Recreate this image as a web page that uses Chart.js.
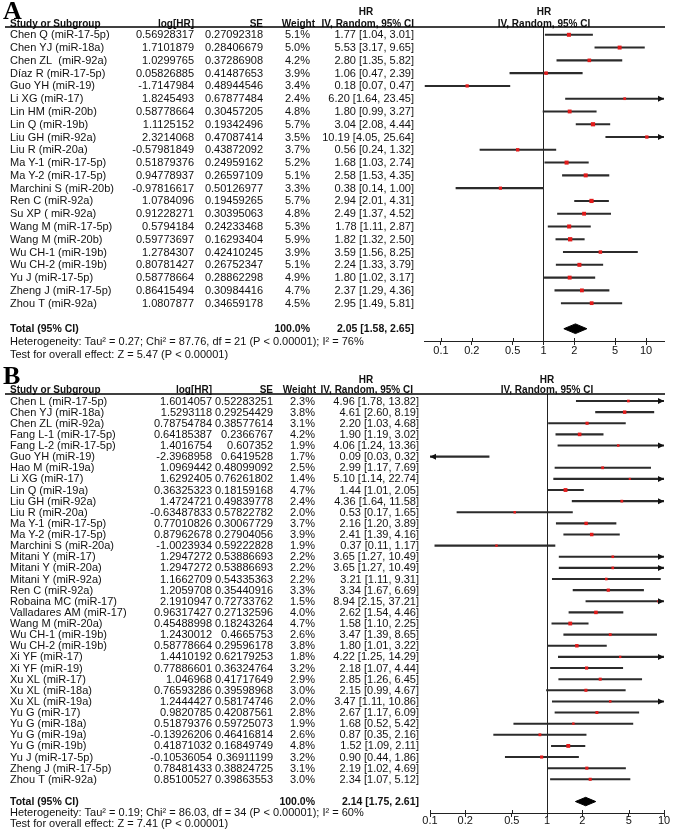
<!DOCTYPE html>
<html>
<head>
<meta charset="utf-8">
<script src="https://cdn.jsdelivr.net/npm/chart.js@4.4.1/dist/chart.umd.min.js"></script>
<style>
  body { margin: 0; background: #fff; }
  #wrap { position: relative; width: 675px; height: 831px; }
  canvas { position: absolute; left: 0; }
</style>
</head>
<body>
<div id="wrap">
  <canvas id="chartA" width="675" height="366" style="top:0"></canvas>
  <canvas id="chartB" width="675" height="465" style="top:366px"></canvas>
</div>
<script>
// ---- Panel A ----
const studiesA = ['Chen Q (miR-17-5p)', 'Chen YJ (miR-18a)', 'Chen ZL  (miR-92a)', 'Díaz R (miR-17-5p)', 'Guo YH (miR-19)',
  'Li XG (miR-17)', 'Lin HM (miR-20b)', 'Lin Q (miR-19b)', 'Liu GH (miR-92a)', 'Liu R (miR-20a)', 'Ma Y-1 (miR-17-5p)',
  'Ma Y-2 (miR-17-5p)', 'Marchini S (miR-20b)', 'Ren C (miR-92a)', 'Su XP ( miR-92a)', 'Wang M (miR-17-5p)',
  'Wang M (miR-20b)', 'Wu CH-1 (miR-19b)', 'Wu CH-2 (miR-19b)', 'Yu J (miR-17-5p)', 'Zheng J (miR-17-5p)', 'Zhou T (miR-92a)'];
const logHrA = [0.56928317, 1.7101879, 1.0299765, 0.05826885, -1.7147984, 1.8245493, 0.58778664, 1.1125152, 2.3214068,
  -0.57981849, 0.51879376, 0.94778937, -0.97816617, 1.0784096, 0.91228271, 0.5794184, 0.59773697, 1.2784307,
  0.80781427, 0.58778664, 0.86415494, 1.0807877];
const seA = [0.27092318, 0.28406679, 0.37286908, 0.41487653, 0.48944546, 0.67877484, 0.30457205, 0.19342496, 0.47087414,
  0.43872092, 0.24959162, 0.26597109, 0.50126977, 0.19459265, 0.30395063, 0.24233468, 0.16293404, 0.42410245,
  0.26752347, 0.28862298, 0.30984416, 0.34659178];
const weightA = [5.1, 5.0, 4.2, 3.9, 3.4, 2.4, 4.8, 5.7, 3.5, 3.7, 5.2, 5.1, 3.3, 5.7, 4.8, 5.3, 5.9, 3.9, 5.1, 4.9, 4.7, 4.5];
const hrA = [1.77, 5.53, 2.80, 1.06, 0.18, 6.20, 1.80, 3.04, 10.19, 0.56, 1.68, 2.58, 0.38, 2.94, 2.49, 1.78, 1.82, 3.59,
  2.24, 1.80, 2.37, 2.95];
const lowA = [1.04, 3.17, 1.35, 0.47, 0.07, 1.64, 0.99, 2.08, 4.05, 0.24, 1.03, 1.53, 0.14, 2.01, 1.37, 1.11, 1.32, 1.56,
  1.33, 1.02, 1.29, 1.49];
const highA = [3.01, 9.65, 5.82, 2.39, 0.47, 23.45, 3.27, 4.44, 25.64, 1.32, 2.74, 4.35, 1.00, 4.31, 4.52, 2.87, 2.50, 8.25,
  3.79, 3.17, 4.36, 5.81];
const totalA = [2.05, 1.58, 2.65];
const hetA = 'Heterogeneity: Tau² = 0.27; Chi² = 87.76, df = 21 (P < 0.00001); I² = 76%';
const effectA = 'Test for overall effect: Z = 5.47 (P < 0.00001)';

// ---- Panel B ----
const studiesB = ['Chen L (miR-17-5p)', 'Chen YJ (miR-18a)', 'Chen ZL (miR-92a)', 'Fang L-1 (miR-17-5p)', 'Fang L-2 (miR-17-5p)',
  'Guo YH (miR-19)', 'Hao M (miR-19a)', 'Li XG (miR-17)', 'Lin Q (miR-19a)', 'Liu GH (miR-92a)', 'Liu R (miR-20a)',
  'Ma Y-1 (miR-17-5p)', 'Ma Y-2 (miR-17-5p)', 'Marchini S (miR-20a)', 'Mitani Y (miR-17)', 'Mitani Y (miR-20a)',
  'Mitani Y (miR-92a)', 'Ren C (miR-92a)', 'Robaina MC (miR-17)', 'Valladares AM (miR-17)', 'Wang M (miR-20a)',
  'Wu CH-1 (miR-19b)', 'Wu CH-2 (miR-19b)', 'Xi YF (miR-17)', 'Xi YF (miR-19)', 'Xu XL (miR-17)', 'Xu XL (miR-18a)',
  'Xu XL (miR-19a)', 'Yu G (miR-17)', 'Yu G (miR-18a)', 'Yu G (miR-19a)', 'Yu G (miR-19b)', 'Yu J (miR-17-5p)',
  'Zheng J (miR-17-5p)', 'Zhou T (miR-92a)'];
const logHrB = [1.6014057, 1.5293118, 0.78754784, 0.64185387, 1.4016754, -2.3968958, 1.0969442, 1.6292405, 0.36325323,
  1.4724721, -0.63487833, 0.77010826, 0.87962678, -1.0023934, 1.2947272, 1.2947272, 1.1662709, 1.2059708, 2.1910947,
  0.96317427, 0.45488998, 1.2430012, 0.58778664, 1.4410192, 0.77886601, 1.046968, 0.76593286, 1.2444427, 0.9820785,
  0.51879376, -0.13926206, 0.41871032, -0.10536054, 0.78481433, 0.85100527];
const seB = [0.52283251, 0.29254429, 0.38577614, 0.2366767, 0.607352, 0.6419528, 0.48099092, 0.76261802, 0.18159168,
  0.49839778, 0.57822782, 0.30067729, 0.27904056, 0.59222828, 0.53886693, 0.53886693, 0.54335363, 0.35440916, 0.72733762,
  0.27132596, 0.18243264, 0.4665753, 0.29596178, 0.62179253, 0.36324764, 0.41717649, 0.39598968, 0.58174746, 0.42087561,
  0.59725073, 0.46416814, 0.16849749, 0.36911199, 0.38824725, 0.39863553];
const weightB = [2.3, 3.8, 3.1, 4.2, 1.9, 1.7, 2.5, 1.4, 4.7, 2.4, 2.0, 3.7, 3.9, 1.9, 2.2, 2.2, 2.2, 3.3, 1.5, 4.0, 4.7,
  2.6, 3.8, 1.8, 3.2, 2.9, 3.0, 2.0, 2.8, 1.9, 2.6, 4.8, 3.2, 3.1, 3.0];
const hrB = [4.96, 4.61, 2.20, 1.90, 4.06, 0.09, 2.99, 5.10, 1.44, 4.36, 0.53, 2.16, 2.41, 0.37, 3.65, 3.65, 3.21, 3.34, 8.94,
  2.62, 1.58, 3.47, 1.80, 4.22, 2.18, 2.85, 2.15, 3.47, 2.67, 1.68, 0.87, 1.52, 0.90, 2.19, 2.34];
const lowB = [1.78, 2.60, 1.03, 1.19, 1.24, 0.03, 1.17, 1.14, 1.01, 1.64, 0.17, 1.20, 1.39, 0.11, 1.27, 1.27, 1.11, 1.67, 2.15,
  1.54, 1.10, 1.39, 1.01, 1.25, 1.07, 1.26, 0.99, 1.11, 1.17, 0.52, 0.35, 1.09, 0.44, 1.02, 1.07];
const highB = [13.82, 8.19, 4.68, 3.02, 13.36, 0.32, 7.69, 22.74, 2.05, 11.58, 1.65, 3.89, 4.16, 1.17, 10.49, 10.49, 9.31,
  6.69, 37.21, 4.46, 2.25, 8.65, 3.22, 14.29, 4.44, 6.45, 4.67, 10.86, 6.09, 5.42, 2.16, 2.11, 1.86, 4.69, 5.12];
const totalB = [2.14, 1.75, 2.61];
const hetB = 'Heterogeneity: Tau² = 0.19; Chi² = 86.03, df = 34 (P < 0.00001); I² = 60%';
const effectB = 'Test for overall effect: Z = 7.41 (P < 0.00001)';

const axisTicks = [0.1, 0.2, 0.5, 1, 2, 5, 10];

const FONT = '"Liberation Sans", Arial, sans-serif';

function fmtCI(h, l, u) {
  return h.toFixed(2) + ' [' + l.toFixed(2) + ', ' + u.toFixed(2) + ']';
}

function makeForest(id, d, lay) {
  const n = d.studies.length;
  const totalRow = n + 1;
  const half = 0.38; // diamond half height, in rows

  const forestPlugin = {
    id: 'forest',
    beforeDatasetsDraw(chart) {
      const {ctx, chartArea: a, scales: {x}} = chart;
      ctx.save();
      ctx.strokeStyle = '#222';
      ctx.lineWidth = 1;
      const x1 = Math.round(x.getPixelForValue(1)) + 0.5;
      ctx.beginPath(); ctx.moveTo(x1, a.top); ctx.lineTo(x1, a.bottom); ctx.stroke();
      // tick marks also poke above the axis
      x.ticks.forEach(t => {
        const px = Math.round(x.getPixelForValue(t.value)) + 0.5;
        ctx.beginPath(); ctx.moveTo(px, a.bottom - 3); ctx.lineTo(px, a.bottom); ctx.stroke();
      });
      ctx.restore();
    },
    afterDatasetsDraw(chart) {
      const {ctx, chartArea: a, scales: {x, y}} = chart;
      ctx.save();
      // arrows for intervals running off the axis
      ctx.fillStyle = '#111';
      for (let i = 0; i < n; i++) {
        const py = y.getPixelForValue(i);
        if (d.high[i] > x.max) {
          ctx.beginPath(); ctx.moveTo(a.right, py); ctx.lineTo(a.right - 6, py - 3); ctx.lineTo(a.right - 6, py + 3); ctx.fill();
        }
        if (d.low[i] < x.min) {
          ctx.beginPath(); ctx.moveTo(a.left, py); ctx.lineTo(a.left + 6, py - 3); ctx.lineTo(a.left + 6, py + 3); ctx.fill();
        }
      }

      // panel letter
      ctx.fillStyle = '#000';
      ctx.textBaseline = 'alphabetic';
      ctx.textAlign = 'left';
      ctx.font = 'bold 26px "Liberation Serif", "Times New Roman", serif';
      ctx.fillText(lay.letter, 3, lay.letterY);

      // headers
      const c = lay.cols;
      const plotMid = (a.left + a.right) / 2;
      const h1 = y.getPixelForValue(lay.hdrRows[0]) + lay.dy;
      const h2 = y.getPixelForValue(lay.hdrRows[1]) + lay.dy;
      ctx.fillStyle = '#111';
      ctx.textBaseline = 'middle';
      ctx.font = 'bold 10px ' + FONT;
      ctx.textAlign = 'center';
      ctx.fillText('HR', c.hdr, h1);
      ctx.fillText('HR', plotMid, h1);
      ctx.fillText('IV, Random, 95% CI', plotMid, h2);
      ctx.textAlign = 'right';
      ctx.fillText('IV, Random, 95% CI', c.hdrRight, h2);
      ctx.fillText('log[HR]', c.log, h2);
      ctx.fillText('SE', c.se, h2);
      ctx.fillText('Weight', c.hdrWt, h2);
      ctx.textAlign = 'left';
      ctx.fillText('Study or Subgroup', 10, h2);
      ctx.strokeStyle = '#000';
      ctx.lineWidth = 1.5;
      ctx.beginPath(); ctx.moveTo(5, a.top); ctx.lineTo(a.right + 1, a.top); ctx.stroke();

      // study rows
      ctx.font = '11px ' + FONT;
      for (let i = 0; i < n; i++) {
        const py = y.getPixelForValue(i) + lay.dy;
        ctx.textAlign = 'left';
        ctx.fillText(d.studies[i], 10, py);
        ctx.textAlign = 'right';
        ctx.fillText(String(d.logHr[i]), c.log, py);
        ctx.fillText(String(d.se[i]), c.se, py);
        ctx.fillText(d.weight[i].toFixed(1) + '%', c.wt, py);
        ctx.fillText(fmtCI(d.hr[i], d.low[i], d.high[i]), c.hr, py);
      }

      // total + footer
      const pt = y.getPixelForValue(totalRow) + lay.dy;
      ctx.font = 'bold 10.5px ' + FONT;
      ctx.textAlign = 'left';
      ctx.fillText('Total (95% CI)', 10, pt);
      ctx.textAlign = 'right';
      ctx.fillText('100.0%', c.wt, pt);
      ctx.fillText(fmtCI(d.total[0], d.total[1], d.total[2]), c.hr, pt);
      ctx.font = '11px ' + FONT;
      ctx.textAlign = 'left';
      ctx.fillText(d.het, 10, y.getPixelForValue(totalRow + 1) + lay.dy);
      ctx.fillText(d.effect, 10, y.getPixelForValue(totalRow + 2) + lay.dy);
      ctx.restore();
    }
  };

  const rows = d.studies.map((s, i) => i);
  return new Chart(document.getElementById(id), {
    type: 'scatter',
    data: {
      datasets: [
        {
          type: 'scatter',
          data: rows.map(i => ({x: d.hr[i], y: i})),
          pointStyle: 'rect',
          pointRadius: d.weight.map(w => 1.25 * Math.sqrt(w)),
          backgroundColor: '#e21b1b',
          borderWidth: 0,
          clip: 0
        },
        {
          type: 'bar',
          indexAxis: 'y',
          data: rows.map(i => ({x: [d.low[i], d.high[i]], y: i})),
          backgroundColor: '#2b2b2b',
          borderWidth: 0,
          barThickness: 1.4,
          clip: 0
        },
        {
          type: 'line',
          data: [
            {x: d.total[1], y: totalRow},
            {x: d.total[0], y: totalRow - half},
            {x: d.total[2], y: totalRow},
            {x: d.total[0], y: totalRow + half},
            {x: d.total[1], y: totalRow}
          ],
          borderColor: '#000',
          backgroundColor: '#000',
          borderWidth: 1,
          pointRadius: 0,
          tension: 0,
          fill: 'shape'
        }
      ]
    },
    options: {
      responsive: false,
      animation: false,
      events: [],
      layout: {padding: {left: lay.left, right: 11, top: lay.top, bottom: lay.bottom}},
      plugins: {legend: {display: false}, tooltip: {enabled: false}},
      scales: {
        x: {
          type: 'logarithmic',
          offset: false,
          min: lay.xMin,
          max: lay.xMax,
          afterBuildTicks: scale => { scale.ticks = axisTicks.map(v => ({value: v})); },
          afterFit: scale => { scale.height = lay.axisH; },
          ticks: {
            callback: v => String(v),
            color: '#111',
            padding: lay.tickPad,
            maxRotation: 0,
            autoSkip: false,
            font: {family: FONT, size: 11}
          },
          grid: {drawOnChartArea: false, drawTicks: true, tickLength: 4, color: '#222', offset: false},
          border: {display: true, color: '#222', width: 1}
        },
        y: {
          type: 'linear',
          display: false,
          offset: false,
          grid: {offset: false},
          reverse: true,
          min: lay.yMin,
          max: lay.yMax
        }
      }
    },
    plugins: [forestPlugin]
  });
}

makeForest('chartA', {
  studies: studiesA, logHr: logHrA, se: seA, weight: weightA, hr: hrA, low: lowA, high: highA,
  total: totalA, het: hetA, effect: effectA
}, {
  letter: 'A', letterY: 18.5, left: 424, top: 27, bottom: 9, axisH: 16, tickPad: -1,
  xMin: 0.0683, xMax: 14.98, yMin: -0.61, yMax: 23.96, dy: 0.5, hdrRows: [-1.8, -0.85],
  cols: {log: 194, se: 263, wt: 310, hr: 414, hdr: 366, hdrRight: 414, hdrWt: 315}
});

makeForest('chartB', {
  studies: studiesB, logHr: logHrB, se: seB, weight: weightB, hr: hrB, low: lowB, high: highB,
  total: totalB, het: hetB, effect: effectB
}, {
  letter: 'B', letterY: 18, left: 430, top: 28, bottom: 4, axisH: 14, tickPad: -2.6,
  xMin: 0.1, xMax: 10, yMin: -0.63, yMax: 37.03, dy: 0.5, hdrRows: [-1.9, -1.0],
  cols: {log: 212, se: 273, wt: 315, hr: 419, hdr: 366, hdrRight: 413, hdrWt: 316}
});
</script>
</body>
</html>
